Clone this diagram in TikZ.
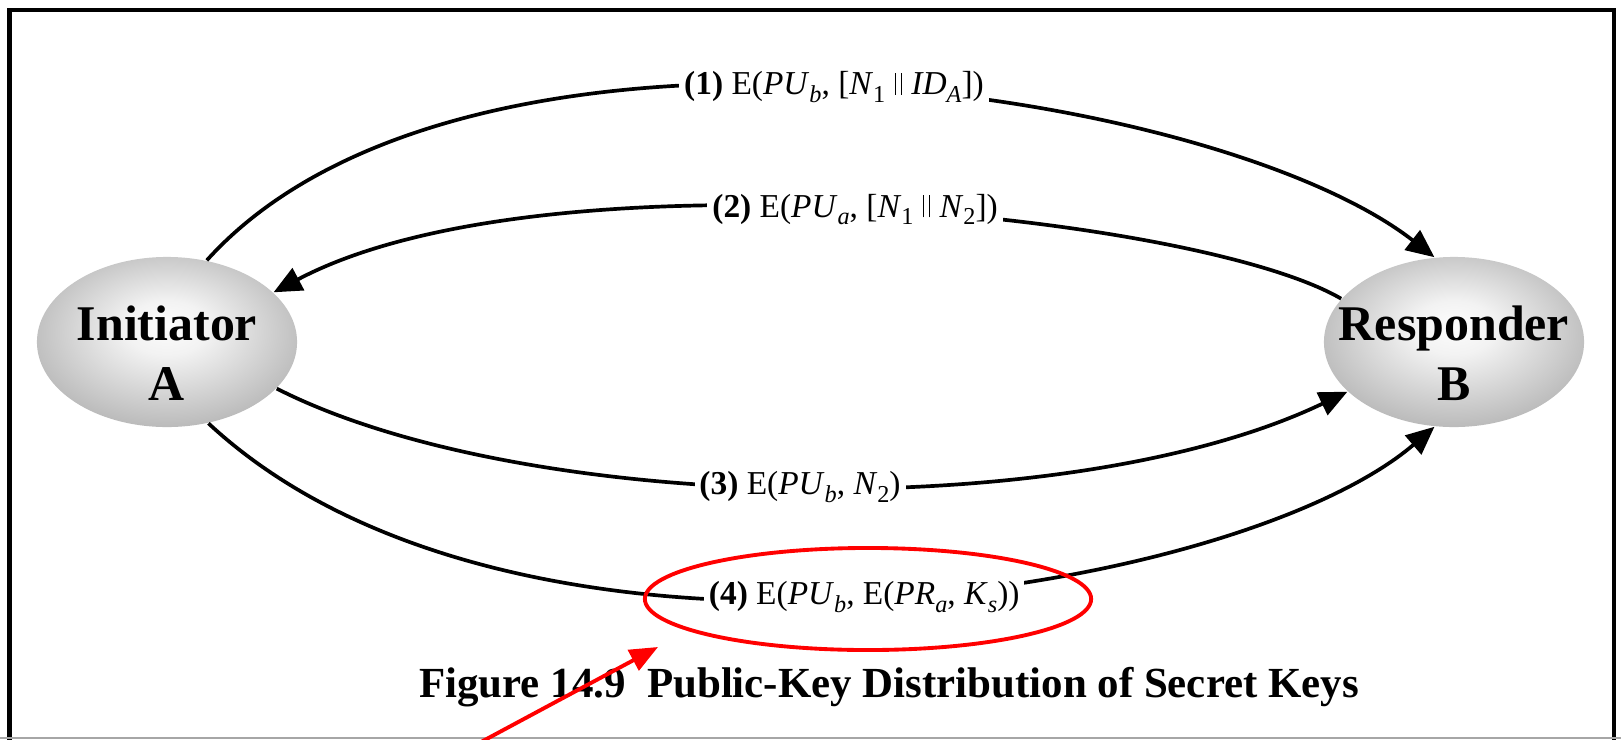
\documentclass[tikz,border=0pt]{standalone}
\usepackage{fontspec}
\setmainfont{Liberation Serif}
\usetikzlibrary{arrows.meta, shapes.geometric}

\pgfdeclareradialshading{partyshade}{\pgfpoint{0bp}{5bp}}{%
  color(0bp)=(black!1); color(8bp)=(black!5); color(30bp)=(black!30); color(50bp)=(black!50)}

\newcommand{\subit}[1]{\raisebox{-0.5ex}{\fontsize{6.9}{7}\selectfont\textit{#1}}}
\newcommand{\subrm}[1]{\raisebox{-0.5ex}{\fontsize{6.9}{7}\selectfont #1}}
\newcommand{\dbar}{\hspace{0.28em}\rule{0.4pt}{0.66em}\kern1.3pt\rule{0.4pt}{0.66em}\hspace{0.28em}}

\begin{document}
\begin{tikzpicture}[x=0.01cm, y=-0.01cm,
    party/.style={ellipse, minimum width=2.6cm, minimum height=1.7cm, inner sep=0pt, shade, shading=partyshade},
    partytext/.style={align=center, font=\fontsize{14.2}{17}\selectfont\bfseries},
    msg/.style={-{Triangle[length=8pt,width=7pt]}, line width=1.05pt},
    lbl/.style={fill=white, inner sep=1.4pt, font=\fontsize{9.5}{11}\selectfont},
    ring/.style={ellipse, draw=red, line width=1.1pt, minimum width=4.46cm, minimum height=1.02cm, inner sep=0pt},
    pointer/.style={red, line width=1.1pt, -{Triangle[length=8pt,width=6.5pt]}}]
      \useasboundingbox (0,0) rectangle (1621,739);

      % frame
      \draw[line width=1.4pt] (9.5,760) -- (9.5,10) -- (1614,10) -- (1614,760);
      \draw[gray!70, line width=0.6pt] (0,738) -- (1621,738);

      \node[party] (A) at (167,342) {};
      \node[party] (B) at (1454,342) {};
      \node[partytext] (At) at (167,353) {Initiator\\A};
      \node[partytext] (Bt) at (1454,353) {Responder\\B};

      \draw[msg] (A.64) .. controls (464,-25) and (1213,85) .. (B.103)
        node[lbl, pos=0.5] (m1) {\textbf{(1)} E(\textit{PU}\subit{b}, [\textit{N}\subrm{1}\dbar\textit{ID}\subit{A}])};
      \draw[msg] (B.159) .. controls (1196,214) and (546,148) .. (A.25)
        node[lbl, pos=0.5] (m2) {\textbf{(2)} E(\textit{PU}\subit{a}, [\textit{N}\subrm{1}\dbar\textit{N}\subrm{2}])};
      \draw[msg] (A.337) .. controls (523,514) and (1069,525) .. (B.205)
        node[lbl, pos=0.5] (m3) {\textbf{(3)} E(\textit{PU}\subit{b}, \textit{N}\subrm{2})};
      \draw[msg] (A.297) .. controls (520,713) and (1237,596) .. (B.257)
        node[lbl, pos=0.5] (m4) {\textbf{(4)} E(\textit{PU}\subit{b}, E(\textit{PR}\subit{a}, \textit{K}\subit{s}))};

      \node[font=\fontsize{12.2}{14}\selectfont\bfseries, anchor=base] (cap) at (889,697)
        {Figure 14.9\hspace{0.5em}Public-Key Distribution of Secret Keys};

      % highlight
      \node[ring] (hl) at (868,599) {};
      \coordinate (ptrtail) at (481,742);
      \coordinate (ptrtip) at (658,647);
      \draw[pointer] (ptrtail) -- (ptrtip);
\end{tikzpicture}
\end{document}
